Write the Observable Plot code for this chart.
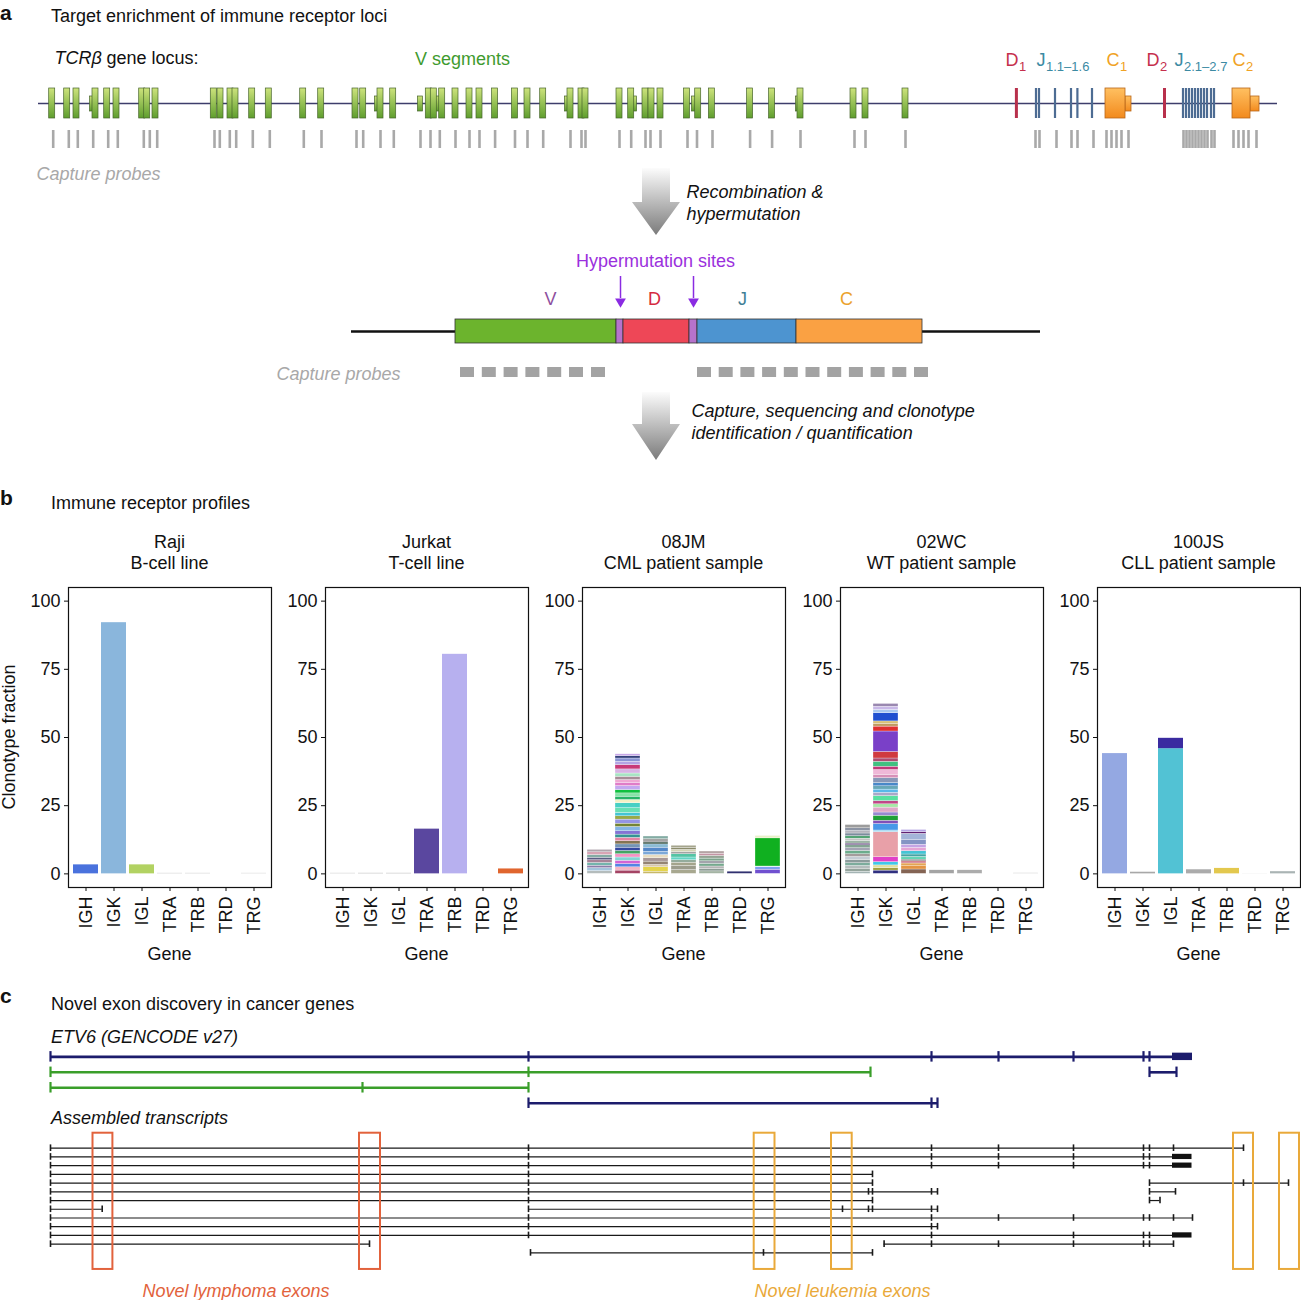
<!DOCTYPE html>
<html><head><meta charset="utf-8">
<script src="https://cdn.jsdelivr.net/npm/d3@7"></script>
<script src="https://cdn.jsdelivr.net/npm/@observablehq/plot@0.6"></script>
<style>
html,body{margin:0;padding:0;background:#fff;}
#root{position:relative;width:1301px;height:1300px;overflow:hidden;font-family:"Liberation Sans",Arial,Helvetica,sans-serif;color:#111;}
</style></head><body><div id="root"></div>
<script>
// ================= DATA =================
// ---- Panel a: TCRβ locus (schematic positions along the locus) ----
const locusSpan = [38, 1277];
const vSegments = [51.7, 66.7, 76, 95, 106.7, 116, 141.7, 146.7, 155, 213.3, 220, 230, 235, 251.7, 268.3, 302.7, 320.7, 355, 362.7, 380, 392.7, 428.3, 433.3, 441.7, 455, 469, 479, 494.6, 514.5, 527, 542.7, 570, 581, 585, 619, 630.7, 645, 651, 660, 686.5, 697.7, 711.4, 749.6, 771.6, 800, 853, 865, 905];
const vSegmentBumps = [92, 377, 420, 437, 567, 634, 694, 798];
const dSegments = [1016.4, 1164.5];
const jSegments = [1036, 1039, 1055, 1071, 1077.4, 1092, 1183, 1186, 1189, 1192, 1195, 1198, 1201, 1204, 1207, 1211, 1214];
const cExons = [[1105, 1125], [1232, 1250]];
const cExonTails = [[1125, 1131], [1250, 1259]];
const locusProbes = [52.7, 68.3, 77.3, 92.7, 107.7, 117.3, 143.3, 149.3, 156.7, 214, 219.3, 229.3, 235.7, 252.3, 269.3, 303.3, 321, 356, 362.7, 380, 393.3, 420, 430, 439.3, 455, 469, 479, 494.6, 514.5, 527, 542.7, 570, 581, 585, 619, 630.7, 645, 650, 660, 687, 696.5, 712, 749.6, 771.6, 800, 854, 865, 905, 1035, 1039, 1056, 1071, 1077, 1093, 1106, 1111, 1116, 1121, 1128, 1183, 1186, 1189, 1192, 1195, 1198, 1201, 1204, 1207, 1211, 1214, 1233, 1238, 1243, 1248, 1256];
const locusLabels = [["D", "1", 1005], ["J", "1.1–1.6", 1036], ["C", "1", 1106], ["D", "2", 1146], ["J", "2.1–2.7", 1174], ["C", "2", 1232]];
// recombined receptor
const recombinedSpan = [351, 1040];
const recombinedParts = [["V", 455, 616], ["N", 616, 623], ["D", 623, 689], ["N", 689, 697], ["J", 697, 796], ["C", 796, 922]];
const recombinedLabels = [["V", 550], ["D", 654], ["J", 742], ["C", 846]];
const hypermutationSites = [620, 693];
const recombinedProbes = [467, 488.8, 510.6, 532.4, 554.2, 576, 598, 704, 725.7, 747.4, 769.1, 790.8, 812.5, 834.2, 855.9, 877.6, 899.3, 921];
const flowSteps = ["Recombination &\nhypermutation", "Capture, sequencing and clonotype\nidentification / quantification"];

// ---- Panel b: clonotype fractions (%), clones listed bottom-up per gene ----
const genes = ["IGH", "IGK", "IGL", "TRA", "TRB", "TRD", "TRG"];
const sampleNames = ["Raji", "Jurkat", "08JM", "02WC", "100JS"];
const sampleTypes = ["B-cell line", "T-cell line", "CML patient sample", "WT patient sample", "CLL patient sample"];
const yTicks = [0, 25, 50, 75, 100];

const rajiClones = [[3.3], [92.1], [3.3], [0.2], [0.2], [], [0.2]];
const rajiColors = [["#4a72dd"], ["#8ab6dc"], ["#b2d262"], ["#d0d0d0"], ["#d0d0d0"], [], ["#d8d8d8"]];

const jurkatClones = [[0.2], [0.2], [0.2], [16.4], [80.5], [], [1.8]];
const jurkatColors = [["#cfcfcf"], ["#bdbdbd"], ["#bdbdbd"], ["#5a479f"], ["#b7b0ef"], [], ["#e0652e"]];

const jm08Clones = [
  [1.0, 1.1, 0.9, 1.0, 1.0, 0.9, 1.0, 1.0, 0.9],
  [1.2, 1.2, 1.2, 1.2, 1.2, 1.2, 1.2, 1.2, 1.2, 1.2, 1.2, 1.2, 1.2, 1.6, 1.2, 1.5, 1.2, 1.2, 1.8, 1.8, 1.2, 1.2, 1.2, 1.2, 1.5, 1.2, 1.0, 1.2, 1.2, 1.5, 1.6, 1.2, 1.2, 0.85, 0.7],
  [0.8, 1.6, 0.9, 1.2, 1.2, 1.2, 1.2, 1.5, 1.2, 0.7, 1.2, 1.0],
  [1.4, 1.5, 1.2, 0.9, 1.0, 1.2, 0.8, 0.8, 0.7, 0.8],
  [0.9, 0.9, 0.9, 1.0, 0.9, 1.0, 1.0, 0.8, 0.8],
  [0.8],
  [1.5, 0.9, 0.3, 10.3, 0.9]
];
const jm08Colors = [
  ["#b4bcbc", "#a4c4dc", "#8c7ca8", "#74b4ac", "#a88498", "#5c5c84", "#84aca4", "#d8a4b4", "#b0a4ac"],
  ["#a44464", "#f4b4c4", "#5484e4", "#d464d4", "#84d4d4", "#f494c4", "#44a464", "#3448a0", "#7494b4", "#847454", "#e484a4", "#349494", "#8474d4", "#84b4e4", "#748434", "#9494e4", "#98a848", "#44c4d4", "#68e0b4", "#48d0c4", "#f4f0c4", "#28b468", "#88e4a8", "#10c040", "#c4a8f0", "#e07cc8", "#f0a8d4", "#a88c98", "#a8e4c4", "#d8b4e4", "#c83a78", "#b4a4e4", "#8a94d4", "#33407a", "#c8a8e8"],
  ["#c8b868", "#e4d44c", "#d8c8a8", "#948474", "#a89898", "#e8dcc0", "#7ca8d8", "#5488c8", "#8cbcd4", "#2c4c3c", "#a4a4a4", "#84aca4"],
  ["#a8a890", "#9c9c8c", "#a4a48c", "#94ac9c", "#64d4c4", "#54c4a4", "#a4a4a4", "#d4d4b4", "#8c8c6c", "#a4a48c"],
  ["#a4b4a4", "#8c9c94", "#b4b4b4", "#74a88c", "#a4a4ac", "#7ca48c", "#94a494", "#c494a4", "#b4a4a4"],
  ["#303070"],
  ["#7050d0", "#80a0f0", "#d0e8f0", "#10b020", "#e8f0c8"]
];

const wc02Clones = [
  [0.8, 1.1, 1.0, 1.0, 1.2, 1.1, 1.0, 1.2, 1.0, 1.1, 0.6, 1.0, 0.8, 0.9, 1.0, 0.9, 1.0, 1.2],
  [1.2, 0.9, 1.0, 1.2, 1.8, 9.2, 0.6, 2.4, 1.2, 1.8, 1.2, 1.8, 1.2, 1.2, 1.8, 1.2, 1.2, 1.2, 1.2, 1.8, 1.2, 1.8, 1.2, 1.8, 1.2, 2.4, 7.5, 1.8, 1.0, 0.9, 3.0, 1.2, 1.2, 1.0],
  [1.6, 1.2, 1.0, 0.9, 0.5, 1.0, 0.9, 1.2, 1.2, 1.2, 1.8, 2.2, 0.6, 0.8],
  [1.3],
  [1.3],
  [],
  [0.25]
];
const wc02Colors = [
  ["#a4b4b4", "#94a49c", "#b4bcbc", "#7cac9c", "#8c9c9c", "#c4ccd4", "#a49c9c", "#6cac8c", "#a4a4b4", "#84a494", "#4c2c6c", "#9cb4a4", "#c4c4c4", "#54a474", "#7c8c9c", "#b4b4bc", "#8c94a4", "#9c9c9c"],
  ["#303080", "#a0a040", "#e0e0a0", "#40c8e8", "#e040c8", "#e8a0a8", "#90d0f0", "#4898e8", "#8050b8", "#20a038", "#9888d0", "#e0a8c8", "#a8e8a8", "#c04888", "#58e0a0", "#a8a8c8", "#58b8e8", "#68a8b8", "#4888c8", "#8898b8", "#d890b8", "#f0b8d8", "#c03878", "#40c080", "#b04a70", "#d03a40", "#7a40c8", "#e03030", "#c09a60", "#d8c078", "#2050d0", "#a8c8f0", "#c8b8e8", "#9a88b0"],
  ["#846454", "#e49444", "#e4a454", "#d48494", "#444444", "#64d4b4", "#44a4a4", "#44c4d4", "#e4a4d4", "#c4a4e4", "#8494c4", "#a4b4d8", "#602070", "#b4a4e4"],
  ["#a4a4a4"],
  ["#acacac"],
  [],
  ["#d0d0d0"]
];

const js100Clones = [[44.1], [0.6], [45.9, 3.8], [1.5], [2.0], [0.1], [0.8]];
const js100Colors = [["#94a8e2"], ["#a8a8a8"], ["#52c2d4", "#3a2ba0"], ["#ababab"], ["#e3c84e"], ["#e8e8e8"], ["#aab4b4"]];

// ---- Panel c: ETV6 transcripts (schematic genomic positions) ----
const refIntrons = [[0, 50, 1192, "coding"], [1, 50, 870, "noncoding"], [1, 1149, 1176, "coding"], [2, 50, 528, "noncoding"], [3, 528, 937, "coding"]];
const refExons = [[0, 50, "coding"], [0, 528, "coding"], [0, 931, "coding"], [0, 998, "coding"], [0, 1073, "coding"], [0, 1143, "coding"], [0, 1149, "coding"],
  [1, 50, "noncoding"], [1, 528, "noncoding"], [1, 870, "noncoding"], [1, 1149, "coding"], [1, 1176, "coding"],
  [2, 50, "noncoding"], [2, 362, "noncoding"], [2, 528, "noncoding"],
  [3, 528, "coding"], [3, 931, "coding"], [3, 937, "coding"]];
const refUTR = [[0, 1172, 1192, "coding"]];

const assembledIntrons = [[0, 50, 1243], [1, 50, 1172], [2, 50, 1172], [3, 50, 872], [4, 50, 872], [4, 1149, 1288], [5, 50, 937], [5, 1149, 1175], [6, 50, 872], [6, 1149, 1159.5], [7, 50, 101.7], [7, 528, 937], [8, 50, 1192], [9, 50, 937], [10, 50, 1172], [11, 50, 369], [11, 883.6, 1173], [12, 530, 872]];
const assembledExons = [
  [50, 528, 931, 998, 1073, 1143, 1149, 1173, 1243],
  [50, 528, 931, 998, 1073, 1143, 1149],
  [50, 528, 931, 998, 1073, 1143, 1149],
  [50, 528, 872],
  [50, 528, 872, 1149, 1243, 1288],
  [50, 528, 868, 872, 931, 937, 1149, 1175],
  [50, 528, 872, 1149, 1159.5],
  [50, 101.7, 528, 842, 868, 872, 931, 937],
  [50, 528, 931, 998, 1073, 1143, 1149, 1173, 1192],
  [50, 528, 931, 937],
  [50, 528, 931, 1073, 1143, 1149],
  [50, 369, 883.6, 931, 998, 1073, 1143, 1149, 1173],
  [530, 763, 872]
];
const assembledUTR = [[1, 1172, 1191.5], [2, 1172, 1191.5], [10, 1172, 1191.5]];
const novelExonBoxes = [["lymphoma", 92.5, 112.4], ["lymphoma", 359, 380], ["leukemia", 753.7, 774.5], ["leukemia", 831, 851.7], ["leukemia", 1233, 1253], ["leukemia", 1279, 1299]];
const novelLabels = [["lymphoma", "Novel lymphoma exons", 235.5], ["leukemia", "Novel leukemia exons", 842]];

// ================= STYLE / LAYOUT =================
const fontFamily = '"Liberation Sans", Arial, Helvetica, sans-serif';
const baseStyle = {fontFamily, fontSize: "18px", color: "#111", background: "transparent", overflow: "visible"};
const partColors = {V: "#6cb42d", N: "#b673cc", D: "#ee4757", J: "#4d94d0", C: "#faa143"};
const partLabelColors = {V: "#8e4f9e", D: "#d52b40", J: "#3f7f96", C: "#eba22c"};
const segLabelColors = {D: "#c52f4d", J: "#3c8aa3", C: "#f0a224"};
const letterWidth = {D: 13.5, J: 9.5, C: 13.5};
// vertical tracks of panel a (same units as the panel's y scale)
const A = {heading: 59, locus: 103, segTop: 88, segBot: 118, bumpTop: 96, bumpBot: 111, probeTop: 130, probeBot: 148, probeLabel: 174,
  arrows: [[168, 202, 235], [392, 424, 460]], arrowX: 656, shaftHalf: 14, headHalf: 24, stepTextX: [686, 691], stepTextY: [201, 420],
  hyperLabel: 261, hyperTop: 276, hyperTip: 301, partLabel: 299, recomb: 331, boxTop: 319, boxBot: 343, sqTop: 367, sqBot: 377, sqHalf: 7, probeLabel2: 374, probeLabel2X: 338};

const root = document.getElementById("root");
function put(node, left, top) { node.style.position = "absolute"; node.style.left = left + "px"; node.style.top = top + "px"; root.appendChild(node); }
function label(text, x, cy, o = {}) {
  const fs = o.size || 18;
  const d = document.createElement("div");
  d.textContent = text;
  const lh = o.lh || fs * 1.2;
  d.style.cssText = `position:absolute;white-space:nowrap;font-size:${fs}px;line-height:${lh}px;color:${o.color || "#111"};` +
    (o.bold ? "font-weight:bold;" : "") + (o.italic ? "font-style:italic;" : "");
  if (o.rotate) {
    d.style.left = x + "px"; d.style.top = cy + "px";
    d.style.transform = "translate(-50%,-50%) rotate(-90deg)";
  } else if (o.top !== undefined) {
    d.style.left = x + "px"; d.style.top = o.top + "px";
  } else {
    d.style.left = x + "px"; d.style.top = (cy - 0.6 * fs) + "px";
    if (o.center) d.style.transform = "translateX(-50%)";
  }
  root.appendChild(d);
}

function defsMark() {
  const g = d3.create("svg:g");
  const defs = g.append("defs");
  const grad = (id, c0, c1) => {
    const lg = defs.append("linearGradient").attr("id", id).attr("x1", 0).attr("y1", 0).attr("x2", 0).attr("y2", 1);
    lg.append("stop").attr("offset", "0%").attr("stop-color", c0);
    lg.append("stop").attr("offset", "100%").attr("stop-color", c1);
  };
  grad("vGrad", "#cde37c", "#5f9e2e");
  grad("cGrad", "#ffc061", "#f28a1d");
  grad("arrowGrad", "#fcfcfc", "#7b7b7b");
  return g.node();
}

// ================= PANEL a =================
const arrowPts = A.arrows.flatMap(([top, neck, tip], i) => [
  {id: i, y: top, x1: A.arrowX - A.shaftHalf, x2: A.arrowX + A.shaftHalf},
  {id: i, y: neck, x1: A.arrowX - A.shaftHalf, x2: A.arrowX + A.shaftHalf},
  {id: i, y: neck, x1: A.arrowX - A.headHalf, x2: A.arrowX + A.headHalf},
  {id: i, y: tip, x1: A.arrowX, x2: A.arrowX}
]);
const stepText = flowSteps.map((t, i) => ({text: t, x: A.stepTextX[i], y: A.stepTextY[i]}));

const panelA = Plot.plot({
  width: 1301, height: 480, margin: 0,
  x: {domain: [0, 1301], range: [0, 1301], axis: null},
  y: {domain: [0, 480], range: [0, 480], axis: null},
  color: {type: "identity"},
  style: baseStyle,
  marks: [
    defsMark,
    // locus
    Plot.ruleY([A.locus], {x1: locusSpan[0], x2: locusSpan[1], stroke: "#3d3d6b", strokeWidth: 1.5}),
    Plot.ruleX(locusProbes, {x: d => d, y1: A.probeTop, y2: A.probeBot, stroke: "#a9a9a9", strokeWidth: 2.6}),
    Plot.rect(vSegmentBumps, {x1: d => d - 2.5, x2: d => d + 2.5, y1: A.bumpTop, y2: A.bumpBot, fill: "url(#vGrad)", stroke: "#47652c", strokeWidth: 0.7}),
    Plot.rect(vSegments, {x1: d => d - 3, x2: d => d + 3, y1: A.segTop, y2: A.segBot, fill: "url(#vGrad)", stroke: "#47652c", strokeWidth: 0.7}),
    Plot.rect(dSegments, {x1: d => d - 1.5, x2: d => d + 1.5, y1: A.segTop, y2: A.segBot, fill: "#b8304c"}),
    Plot.rect(jSegments, {x1: d => d - 1.1, x2: d => d + 1.1, y1: A.segTop, y2: A.segBot, fill: "#4d6c93"}),
    Plot.rect(cExonTails, {x1: d => d[0], x2: d => d[1], y1: A.bumpTop, y2: A.bumpBot, fill: "url(#cGrad)", stroke: "#b8661a", strokeWidth: 0.8}),
    Plot.rect(cExons, {x1: d => d[0], x2: d => d[1], y1: A.segTop, y2: A.segBot, fill: "url(#cGrad)", stroke: "#b8661a", strokeWidth: 0.8}),
    Plot.text(["TCRβ"], {x: 54, y: 58, textAnchor: "start", fontStyle: "italic", fontSize: 18, fill: "#111"}),
    Plot.text(["gene locus:"], {x: 106, y: 58, textAnchor: "start", fontSize: 18, fill: "#111"}),
    Plot.text(["V segments"], {x: 462, y: A.heading, fontSize: 18, fill: "#3f9b2f"}),
    Plot.text(locusLabels, {x: d => d[2], y: A.heading + 1, text: d => d[0], textAnchor: "start", fontSize: 18, fill: d => segLabelColors[d[0]]}),
    Plot.text(locusLabels, {x: d => d[2] + letterWidth[d[0]], y: A.heading + 7, text: d => d[1], textAnchor: "start", fontSize: 13, fill: d => segLabelColors[d[0]]}),
    Plot.text(["Capture probes"], {x: 36, y: A.probeLabel, textAnchor: "start", fontStyle: "italic", fontSize: 18, fill: "#a8a8a8"}),
    // flow arrows
    Plot.areaX(arrowPts, {y: "y", x1: "x1", x2: "x2", z: "id", fill: "url(#arrowGrad)"}),
    Plot.text(stepText, {x: "x", y: "y", text: "text", textAnchor: "start", lineAnchor: "middle", lineHeight: 1.22, fontStyle: "italic", fontSize: 18, fill: "#111"}),
    // recombined receptor
    Plot.text(["Hypermutation sites"], {x: 655, y: A.hyperLabel, fontSize: 18, fill: "#9b30dd"}),
    Plot.ruleX(hypermutationSites, {x: d => d, y1: A.hyperTop, y2: A.hyperTip - 3, stroke: "#8a2be2", strokeWidth: 1.5}),
    Plot.dot(hypermutationSites, {x: d => d, y: A.hyperTip, symbol: "triangle", rotate: 180, r: 4, fill: "#8a2be2"}),
    Plot.text(recombinedLabels, {x: d => d[1], y: A.partLabel, text: d => d[0], fontSize: 18, fill: d => partLabelColors[d[0]]}),
    Plot.ruleY([A.recomb], {x1: recombinedSpan[0], x2: recombinedSpan[1], stroke: "#111", strokeWidth: 2.5}),
    Plot.rect(recombinedParts, {x1: d => d[1], x2: d => d[2], y1: A.boxTop, y2: A.boxBot, fill: d => partColors[d[0]], stroke: "#333", strokeWidth: 0.8}),
    Plot.rect(recombinedProbes, {x1: d => d - A.sqHalf, x2: d => d + A.sqHalf, y1: A.sqTop, y2: A.sqBot, fill: "#a3a3a3"}),
    Plot.text(["Capture probes"], {x: A.probeLabel2X, y: A.probeLabel2, fontStyle: "italic", fontSize: 18, fill: "#a8a8a8"})
  ]
});
put(panelA, 0, 0);

label("a", 0, 0, {size: 21, bold: true, lh: 21, top: 1.5});
label("Target enrichment of immune receptor loci", 51, 17);
label("b", 0, 0, {size: 21, bold: true, lh: 21, top: 487});
label("Immune receptor profiles", 51, 504);
label("c", 0, 0, {size: 21, bold: true, lh: 21, top: 985});
label("Novel exon discovery in cancer genes", 51, 1005);
label("ETV6 (GENCODE v27)", 51, 1038, {italic: true});
label("Assembled transcripts", 51, 1119, {italic: true});

// ================= PANEL b =================
const frameLefts = [68, 325, 582, 840, 1097];
const frameTop = 587, frameW = 203, frameH = 300, mLeft = 46;
const sampleClones = [rajiClones, jurkatClones, jm08Clones, wc02Clones, js100Clones];
const sampleColors = [rajiColors, jurkatColors, jm08Colors, wc02Colors, js100Colors];
const striped = [false, false, true, true, false];

sampleNames.forEach((name, s) => {
  const rows = [];
  sampleClones[s].forEach((vals, gi) => vals.forEach((v, k) => rows.push({gene: genes[gi], value: v, color: sampleColors[s][gi][k]})));
  const p = Plot.plot({
    width: mLeft + frameW + 1, height: 3 + frameH + 55,
    marginLeft: mLeft, marginRight: 1, marginTop: 3, marginBottom: 55,
    style: baseStyle,
    x: {domain: genes, padding: 0.1, inset: 2, tickRotate: -90, tickSize: 4, tickPadding: 5, label: null},
    y: {domain: [-5, 105], ticks: yTicks, tickSize: 4, tickPadding: 4, label: null},
    color: {type: "identity"},
    marks: [
      Plot.barY(rows, {x: "gene", y: "value", fill: "color", stroke: striped[s] ? "white" : undefined, strokeWidth: 0.3}),
      Plot.frame({stroke: "#111", strokeWidth: 1.2})
    ]
  });
  put(p, frameLefts[s] - mLeft, frameTop - 3);
  const cx = frameLefts[s] + frameW / 2;
  label(name, cx, 543, {center: true});
  label(sampleTypes[s], cx, 564, {center: true});
  label("Gene", cx, 955, {center: true});
});
label("Clonotype fraction", 10, frameTop + frameH / 2, {rotate: true});

// ================= PANEL c =================
const refPlot = Plot.plot({
  width: 1301, height: 68, margin: 0,
  x: {domain: [0, 1301], range: [0, 1301], axis: null},
  y: {domain: [-0.8, 3.6], range: [0, 68], axis: null},
  color: {domain: ["coding", "noncoding"], range: ["#1c1c6c", "#3a9e2a"]},
  style: baseStyle,
  marks: [
    Plot.ruleY(refIntrons, {y: d => d[0], x1: d => d[1], x2: d => d[2], stroke: d => d[3], strokeWidth: 2.6}),
    Plot.ruleX(refExons, {x: d => d[1], y1: d => d[0] - 0.34, y2: d => d[0] + 0.34, stroke: d => d[2], strokeWidth: 2.2}),
    Plot.rect(refUTR, {x1: d => d[1], x2: d => d[2], y1: d => d[0] - 0.24, y2: d => d[0] + 0.24, fill: d => d[3]})
  ]
});
put(refPlot, 0, 1044);

const exonTicks = assembledExons.flatMap((xs, row) => xs.map(x => [row, x]));
const asmPlot = Plot.plot({
  width: 1301, height: 172, margin: 0,
  x: {domain: [0, 1301], range: [0, 1301], axis: null},
  y: {domain: [-2.26, 17.46], range: [0, 172], axis: null},
  color: {domain: ["lymphoma", "leukemia"], range: ["#e2623c", "#e9a93a"]},
  style: baseStyle,
  marks: [
    Plot.ruleY(assembledIntrons, {y: d => d[0], x1: d => d[1], x2: d => d[2], stroke: "#1a1a1a", strokeWidth: 1.2}),
    Plot.ruleX(exonTicks, {x: d => d[1], y1: d => d[0] - 0.38, y2: d => d[0] + 0.38, stroke: "#1a1a1a", strokeWidth: 1.6}),
    Plot.rect(assembledUTR, {x1: d => d[1], x2: d => d[2], y1: d => d[0] - 0.3, y2: d => d[0] + 0.3, fill: "#111"}),
    Plot.rect(novelExonBoxes, {x1: d => d[1], x2: d => d[2], y1: -1.72, y2: 13.9, fill: "none", stroke: d => d[0], strokeWidth: 2}),
    Plot.text(novelLabels, {x: d => d[2], y: 16.4, text: d => d[1], fill: d => d[0], fontStyle: "italic", fontSize: 18})
  ]
});
put(asmPlot, 0, 1128);
</script></body></html>
